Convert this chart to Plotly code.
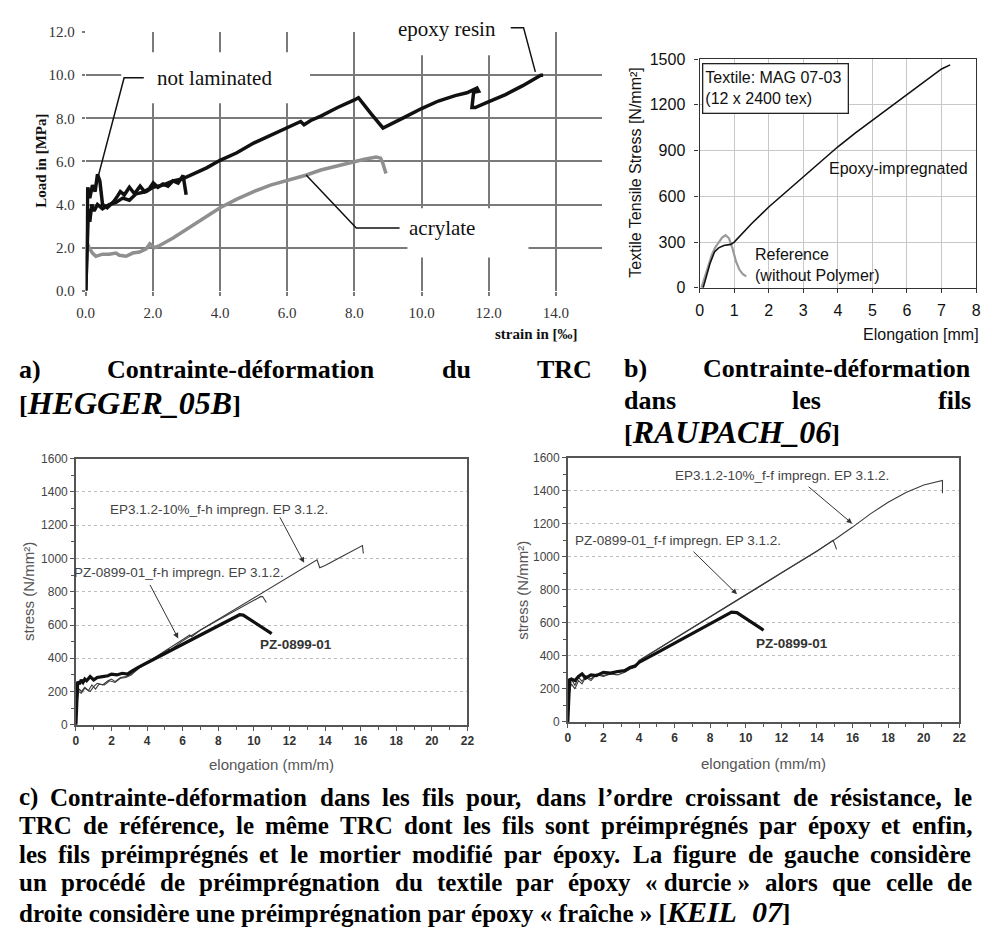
import plotly.graph_objects as go

W, H = 989, 942
def PX(x): return x / W
def PY(y): return 1 - y / H

# ---------------- Panel a data (strain in ‰, load in MPa) ----------------
a_notlam_x = [0.0, 0.03, 0.06, 0.12, 0.2, 0.28, 0.35, 0.42, 0.5, 0.64, 0.75, 0.84, 0.95, 1.03, 1.15,
              1.3, 1.45, 1.62, 1.75, 1.9, 2.01, 2.15, 2.3, 2.45, 2.6, 2.75, 2.9, 2.99]
a_notlam_y = [0.0, 3.0, 4.8, 4.3, 4.9, 4.6, 5.4, 5.1, 4.0, 3.85, 4.0, 4.15, 4.4, 4.6, 4.45,
              4.8, 4.5, 4.85, 4.6, 4.75, 5.0, 4.8, 4.95, 4.85, 5.1, 5.0, 5.35, 4.45]
a_epoxy_x = [0.0, 0.04, 0.08, 0.12, 0.18, 0.25, 0.35, 0.5, 0.7, 0.9, 1.1, 1.3, 1.5, 1.8, 2.0, 2.3, 2.6,
             2.9, 3.2, 3.6, 4.0, 4.5, 5.0, 5.5, 6.0, 6.4, 6.5, 6.7, 7.0, 7.5, 8.0, 8.12, 8.5, 8.85,
             9.5, 10.0, 10.5, 11.0, 11.35, 11.5, 11.65, 11.7, 11.55, 11.5, 11.6, 11.9, 12.5, 13.0,
             13.55, 13.62]
a_epoxy_y = [0.0, 2.2, 3.8, 3.2, 4.0, 3.7, 4.0, 3.8, 4.0, 4.1, 4.3, 4.2, 4.5, 4.6, 4.8, 4.9, 5.1,
             5.2, 5.4, 5.7, 6.05, 6.4, 6.85, 7.2, 7.55, 7.85, 7.7, 7.9, 8.1, 8.5, 8.85, 8.95, 8.2, 7.55,
             8.05, 8.45, 8.8, 9.05, 9.18, 9.3, 9.4, 9.25, 9.2, 8.5, 8.5, 8.7, 9.1, 9.5,
             10.0, 10.0]
a_acr_x = [0.0, 0.02, 0.05, 0.1, 0.2, 0.3, 0.5, 0.7, 0.9, 1.0, 1.2, 1.4, 1.6, 1.8, 1.91, 2.05, 2.2,
           2.6, 3.0, 3.5, 4.0, 4.5, 5.0, 5.5, 6.0, 6.55, 7.0, 7.5, 7.97, 8.3, 8.65, 8.78, 8.85, 8.94]
a_acr_y = [0.0, 1.0, 2.2, 2.0, 1.75, 1.6, 1.7, 1.7, 1.75, 1.65, 1.6, 1.75, 1.8, 1.95, 2.18, 2.0, 2.1,
           2.45, 2.85, 3.35, 3.85, 4.25, 4.6, 4.9, 5.1, 5.36, 5.6, 5.8, 5.97, 6.1, 6.2, 6.15, 5.9, 5.44]

# ---------------- Panel b data (elongation mm, stress N/mm²) ----------------
b_epoxy_x = [0.1, 0.2, 0.3, 0.43, 0.55, 0.7, 0.9, 1.0, 1.5, 2.0, 2.5, 3.0, 3.5, 4.0, 4.5, 5.0, 5.5,
             6.0, 6.5, 7.0, 7.25]
b_epoxy_y = [0, 80, 160, 236, 262, 278, 285, 300, 420, 530, 630, 730, 830, 925, 1015, 1100, 1185,
             1270, 1355, 1435, 1462]
b_ref_x = [0.05, 0.15, 0.25, 0.35, 0.45, 0.55, 0.65, 0.75, 0.85, 0.95, 1.05, 1.15, 1.25, 1.35]
b_ref_y = [0, 70, 150, 215, 265, 300, 330, 345, 325, 260, 175, 120, 90, 75]

# ---------------- Panel c-left data (f-h) ----------------
cl_pz_x = [0, 0.05, 0.1, 0.2, 0.3, 0.4, 0.5, 0.6, 0.8, 1.0, 1.2, 1.5, 1.8, 2.0, 2.3, 2.6, 2.9, 3.1,
           3.3, 3.5, 4.0, 5.0, 6.0, 7.0, 8.0, 9.0, 9.2, 9.4, 10.0, 10.5, 11.0]
cl_pz_y = [0, 150, 260, 245, 270, 255, 275, 265, 290, 270, 285, 290, 295, 305, 300, 310, 305, 320,
           335, 345, 373, 428, 484, 540, 595, 651, 662, 660, 620, 585, 548]
cl_pzfh_x = [0, 0.05, 0.1, 0.2, 0.3, 0.5, 0.7, 0.9, 1.1, 1.3, 1.6, 1.9, 2.2, 2.5, 2.8, 3.1, 3.4, 3.6,
             4.0, 5.0, 6.0, 6.4, 6.5, 7.0, 8.0, 9.0, 10.0, 10.4, 10.5, 10.6, 10.7]
cl_pzfh_y = [0, 120, 190, 215, 200, 225, 205, 240, 215, 245, 240, 265, 255, 280, 285, 300, 330, 345,
             375, 445, 510, 540, 530, 570, 630, 690, 750, 772, 770, 755, 735]
cl_ep_x = [0, 0.05, 0.15, 0.3, 0.5, 0.8, 1.0, 1.2, 1.5, 1.8, 2.0, 2.2, 2.5, 2.8, 3.0, 3.3, 3.6, 4.0,
           5.0, 5.2, 5.3, 6.0, 7.0, 8.0, 9.0, 10.0, 11.0, 12.0, 13.0, 13.55, 13.7, 14.0, 15.0, 16.1,
           16.15]
cl_ep_y = [0, 130, 200, 190, 220, 200, 230, 250, 240, 265, 275, 260, 285, 290, 300, 325, 345, 370,
           440, 455, 450, 505, 570, 635, 700, 765, 830, 895, 955, 992, 945, 958, 1015, 1078, 1030]

# ---------------- Panel c-right data (f-f) ----------------
cr_pz_x = [0, 0.05, 0.1, 0.2, 0.4, 0.6, 0.8, 1.0, 1.3, 1.6, 2.0, 2.4, 2.8, 3.2, 3.5, 3.8, 4.0, 5.0,
           6.0, 7.0, 8.0, 9.0, 9.2, 9.5, 10.0, 10.5, 11.0]
cr_pz_y = [0, 160, 255, 260, 250, 275, 290, 265, 285, 280, 300, 295, 305, 310, 330, 340, 360, 418,
           477, 536, 595, 653, 665, 662, 625, 590, 555]
cr_pzff_x = [0, 0.05, 0.1, 0.2, 0.4, 0.6, 0.8, 1.0, 1.3, 1.6, 2.0, 2.4, 2.8, 3.2, 3.5, 3.8, 4.0, 5.0,
             6.0, 8.0, 10.0, 12.0, 14.0, 14.9, 15.0, 15.1]
cr_pzff_y = [0, 120, 190, 230, 200, 250, 230, 270, 250, 285, 275, 290, 285, 300, 320, 330, 370, 436,
             503, 636, 768, 901, 1034, 1100, 1075, 1045]
cr_ep_x = [0, 0.05, 0.1, 0.2, 0.4, 0.6, 0.8, 1.0, 1.3, 1.6, 2.0, 2.4, 2.8, 3.2, 3.5, 3.8, 4.0, 5.0,
           6.0, 8.0, 10.0, 12.0, 14.0, 15.0, 16.0, 17.0, 18.0, 19.0, 20.0, 20.6, 21.0, 21.05, 21.05]
cr_ep_y = [0, 100, 180, 260, 220, 270, 245, 280, 260, 290, 280, 295, 300, 310, 330, 335, 372, 438,
           505, 638, 770, 903, 1036, 1105, 1180, 1260, 1330, 1390, 1435, 1452, 1462, 1462, 1385]

# ---------------- Caption text ----------------
cap_a_line1 = ["a)", "Contrainte-déformation", "du", "TRC"]
cap_b_line1 = ["b)", "Contrainte-déformation"]
cap_b_line2 = ["dans", "les", "fils"]
cap_c_lines = [
    "c) Contrainte-déformation dans les fils pour, dans l’ordre croissant de résistance, le".split(" "),
    "TRC de référence, le même TRC dont les fils sont préimprégnés par époxy et enfin,".split(" "),
    "les fils préimprégnés et le mortier modifié par époxy. La figure de gauche considère".split(" "),
    ["un", "procédé", "de", "préimprégnation", "du", "textile", "par", "époxy",
     "«\u00a0durcie\u00a0»", "alors", "que", "celle", "de"],
]
cap_c_last = "droite considère une préimprégnation par époxy «\u00a0fraîche\u00a0» ["

SERIF = "Liberation Serif, Times New Roman, serif"
SANS = "Liberation Sans, Arial, sans-serif"

# Times-Bold advance widths (per 1000 em) used to justify caption words
TB = {' ': 250, 'a': 500, 'b': 556, 'c': 444, 'd': 556, 'e': 444, 'f': 333, 'g': 500, 'h': 556,
      'i': 278, 'j': 333, 'k': 556, 'l': 278, 'm': 833, 'n': 556, 'o': 500, 'p': 556, 'q': 556,
      'r': 444, 's': 389, 't': 333, 'u': 556, 'v': 500, 'w': 722, 'x': 500, 'y': 500, 'z': 444,
      'A': 722, 'B': 667, 'C': 722, 'D': 722, 'E': 667, 'F': 611, 'G': 778, 'H': 778, 'I': 389,
      'J': 500, 'K': 778, 'L': 667, 'M': 944, 'N': 722, 'O': 778, 'P': 611, 'R': 722, 'S': 556,
      'T': 667, 'U': 722, ',': 250, '.': 250, ')': 333, '(': 333, '-': 333, '’': 333, '«': 500,
      '»': 500, 'é': 444, 'è': 444, 'ê': 444, 'î': 278, '\u00a0': 250}

def wlen(s, size):
    return sum(TB.get(c, 500) for c in s) / 1000.0 * size * 1.02

fig = go.Figure()

def add_line(x, y, ax, color, width):
    fig.add_trace(go.Scatter(x=x, y=y, mode="lines", xaxis="x" + ax, yaxis="y" + ax,
                             line=dict(color=color, width=width), hoverinfo="skip",
                             showlegend=False))

# panel a
add_line(a_acr_x, a_acr_y, "", "#8f8f8f", 3.5)
add_line(a_notlam_x, a_notlam_y, "", "#111111", 3.5)
add_line(a_epoxy_x, a_epoxy_y, "", "#111111", 3.5)
# panel b
add_line(b_ref_x, b_ref_y, "2", "#9a9a9a", 2.2)
add_line(b_epoxy_x, b_epoxy_y, "2", "#111111", 1.6)
# panel c left
add_line(cl_ep_x, cl_ep_y, "3", "#3a3a3a", 1.1)
add_line(cl_pzfh_x, cl_pzfh_y, "3", "#3a3a3a", 1.1)
add_line(cl_pz_x, cl_pz_y, "3", "#111111", 3.2)
# panel c right
add_line(cr_ep_x, cr_ep_y, "4", "#3a3a3a", 1.1)
add_line(cr_pzff_x, cr_pzff_y, "4", "#3a3a3a", 1.1)
add_line(cr_pz_x, cr_pz_y, "4", "#111111", 3.2)

anns = []
def T(text, x, y, size, family, color="#000", xa="center", ya="middle", angle=0, **kw):
    d = dict(text=text, x=PX(x), y=PY(y), xref="paper", yref="paper", showarrow=False,
             xanchor=xa, yanchor=ya, textangle=angle,
             font=dict(size=size, family=family, color=color), borderpad=0)
    d.update(kw)
    anns.append(d)

def arrow(hx, hy, tx, ty):
    anns.append(dict(text="", x=PX(hx), y=PY(hy), xref="paper", yref="paper", showarrow=True,
                     ax=tx - hx, ay=ty - hy, arrowhead=2, arrowsize=1.1, arrowwidth=1,
                     arrowcolor="#333"))

def justify(words, x0, x1, y, size=26):
    ws = [wlen(w, size) for w in words]
    gap = (x1 - x0 - sum(ws)) / (len(words) - 1)
    x = x0
    for w, wd in zip(words, ws):
        T("<b>" + w + "</b>", x - 1, y, size, SERIF, xa="left")
        x += wd + gap

# ---------- panel a texts ----------
T("<b>Load in [MPa]</b>", 33, 155, 15, SERIF, "#111", angle=-90)
T("<b>strain in [‰]</b>", 579, 332, 15, SERIF, "#111", xa="right")
T("not laminated", 209, 71, 21, SERIF, "#111")
T("epoxy resin", 445, 21, 21, SERIF, "#111")
T("acrylate", 440, 224, 21, SERIF, "#111")

# ---------- panel b texts ----------
T("Textile Tensile Stress [N/mm²]", 637, 168, 16, SANS, "#111", angle=-90)
T("Elongation [mm]", 987, 333, 16, SANS, "#111", xa="right")
anns.append(dict(text="Textile: MAG 07-03<br>(12 x 2400 tex)", x=PX(779), y=PY(82),
                 xref="paper", yref="paper", showarrow=False, xanchor="center", yanchor="middle",
                 align="left", width=140, height=44, borderpad=2, borderwidth=1.3,
                 bordercolor="#222", bgcolor="white",
                 font=dict(size=16, family=SANS, color="#111")))
T("Epoxy-impregnated", 904, 163, 16, SANS, "#111")
T("Reference<br>(without Polymer)", 757, 262, 16, SANS, "#111", xa="left", align="left")

# ---------- panel c texts ----------
T("stress (N/mm²)", 20, 594, 15, SANS, "#555", angle=-90)
T("elongation (mm/m)", 267, 770, 15, SANS, "#555")
T("EP3.1.2-10%_f-h impregn. EP 3.1.2.", 213, 511, 13.5, SANS, "#444")
T("PZ-0899-01_f-h impregn. EP 3.1.2.", 173, 575, 13.5, SANS, "#444")
T("<b>PZ-0899-01</b>", 292, 648, 13.5, SANS, "#333")
arrow(300, 565, 275, 518)
arrow(172, 642, 143, 587)

T("stress (N/mm²)", 522, 593, 15, SANS, "#555", angle=-90)
T("elongation (mm/m)", 767, 769, 15, SANS, "#555")
T("EP3.1.2-10%_f-f impregn. EP 3.1.2.", 786, 476, 13.5, SANS, "#444")
T("PZ-0899-01_f-f impregn. EP 3.1.2.", 680, 542, 13.5, SANS, "#444")
T("<b>PZ-0899-01</b>", 796, 647, 13.5, SANS, "#333")
arrow(857, 525, 812, 487)
arrow(740, 597, 695, 553)

# ---------- captions ----------
justify(cap_a_line1, 10, 593, 368)
T("<b>[<i><span style='font-size:32px'>HEGGER_05B</span></i>]</b>", 9, 402, 26, SERIF, xa="left")
justify(cap_b_line1, 625, 978, 367)
justify(cap_b_line2, 625, 978, 400)
T("<b>[<i><span style='font-size:32px'>RAUPACH_06</span></i>]</b>", 624, 432, 26, SERIF, xa="left")
for words, yy in zip(cap_c_lines, [804, 833, 862, 891]):
    justify(words, 10, 979, yy, size=25)
T("<b>" + cap_c_last + "<i><span style='font-size:30px'>KEIL\u00a0\u00a007</span></i>]</b>",
  9, 920, 25, SERIF, xa="left")

# ---------- white boxes behind panel a labels (cover grid) ----------
def a_dx(p): return (p - 78) / (525 / 15.38)
def a_dy(p): return (288 - p) / (264 / 12.02)
shapes = []
for (x0, y0, x1, y1) in [(114, 45, 306, 97), (352, -10, 532, 48), (405, 204, 528, 254)]:
    shapes.append(dict(type="rect", xref="x", yref="y", x0=a_dx(x0), x1=a_dx(x1),
                       y0=a_dy(y1), y1=a_dy(y0), fillcolor="white", line=dict(width=0),
                       layer="between"))
# leader lines (pixel layout -> paper)
for pts in [[(137, 71), (117, 71), (90, 174)],
            [(510, 20), (523, 20), (535, 65)],
            [(397, 224), (353, 224), (302, 170)]]:
    path = "M " + " L ".join(f"{PX(x):.5f},{PY(y):.5f}" for x, y in pts)
    shapes.append(dict(type="path", xref="paper", yref="paper", path=path,
                       line=dict(color="#111", width=1.5), layer="above"))

grid_a = "#7a7a7a"
fig.update_layout(
    width=W, height=H, margin=dict(l=0, r=0, t=0, b=0),
    paper_bgcolor="white", plot_bgcolor="white", showlegend=False,
    annotations=anns, shapes=shapes,
    xaxis=dict(domain=[PX(78), PX(603)], range=[0, 15.38], anchor="y", dtick=2, tick0=0,
               tickformat=".1f", showgrid=True, gridcolor=grid_a, gridwidth=1.6, zeroline=False,
               showline=False, ticks="outside", ticklen=4, tickcolor=grid_a, tickwidth=1.6,
               ticklabelstandoff=4, tickfont=dict(family=SERIF, size=15, color="#333")),
    yaxis=dict(domain=[PY(288), PY(24)], range=[0, 12.02], anchor="x", dtick=2, tick0=0,
               tickformat=".1f", showgrid=True, gridcolor=grid_a, gridwidth=1.6, zeroline=False,
               showline=False, ticks="outside", ticklen=3, tickcolor=grid_a, tickwidth=1.6,
               ticklabelstandoff=4, tickfont=dict(family=SERIF, size=15, color="#333")),
    xaxis2=dict(domain=[PX(702), PX(983)], range=[0, 8], anchor="y2", dtick=1, showgrid=True,
                gridcolor="#c8c8c8", gridwidth=1, zeroline=False, showline=True, mirror=True,
                linecolor="#333", linewidth=1.3, ticks="outside", ticklen=4, tickcolor="#333",
                ticklabelstandoff=4, tickfont=dict(family=SANS, size=16, color="#111")),
    yaxis2=dict(domain=[PY(285), PY(52)], range=[0, 1500], anchor="x2", dtick=300, showgrid=True,
                gridcolor="#c8c8c8", gridwidth=1, zeroline=False, showline=True, mirror=True,
                linecolor="#333", linewidth=1.3, ticks="outside", ticklen=4, tickcolor="#333",
                ticklabelstandoff=6, tickfont=dict(family=SANS, size=16, color="#111")),
    xaxis3=dict(domain=[PX(68), PX(466)], range=[0, 22], anchor="y3", dtick=2, showgrid=False,
                zeroline=False, showline=True, mirror=True, linecolor="#555", linewidth=1.5,
                ticks="outside", ticklen=4, tickcolor="#555",
                minor=dict(dtick=1, ticks="outside", ticklen=3, tickcolor="#555"),
                tickfont=dict(family=SANS, size=12, color="#333", weight="bold")),
    yaxis3=dict(domain=[PY(730), PY(459)], range=[0, 1600], anchor="x3", dtick=200,
                showgrid=True, gridcolor="#bdbdbd", griddash="dot", gridwidth=1, zeroline=False,
                showline=True, mirror=True, linecolor="#555", linewidth=1.5, ticks="outside",
                ticklen=4, tickcolor="#555",
                minor=dict(dtick=100, ticks="outside", ticklen=3, tickcolor="#555"),
                tickfont=dict(family=SANS, size=12, color="#444")),
    xaxis4=dict(domain=[PX(568), PX(966)], range=[0, 22], anchor="y4", dtick=2, showgrid=False,
                zeroline=False, showline=True, mirror=True, linecolor="#555", linewidth=1.5,
                ticks="outside", ticklen=4, tickcolor="#555",
                minor=dict(dtick=1, ticks="outside", ticklen=3, tickcolor="#555"),
                tickfont=dict(family=SANS, size=12, color="#333", weight="bold")),
    yaxis4=dict(domain=[PY(727), PY(458)], range=[0, 1600], anchor="x4", dtick=200,
                showgrid=True, gridcolor="#bdbdbd", griddash="dot", gridwidth=1, zeroline=False,
                showline=True, mirror=True, linecolor="#555", linewidth=1.5, ticks="outside",
                ticklen=4, tickcolor="#555",
                minor=dict(dtick=100, ticks="outside", ticklen=3, tickcolor="#555"),
                tickfont=dict(family=SANS, size=12, color="#444")),
)

fig.write_html("out.html", config={"displayModeBar": False},
               post_script="document.body.style.margin='0';document.body.style.overflow='hidden';")
